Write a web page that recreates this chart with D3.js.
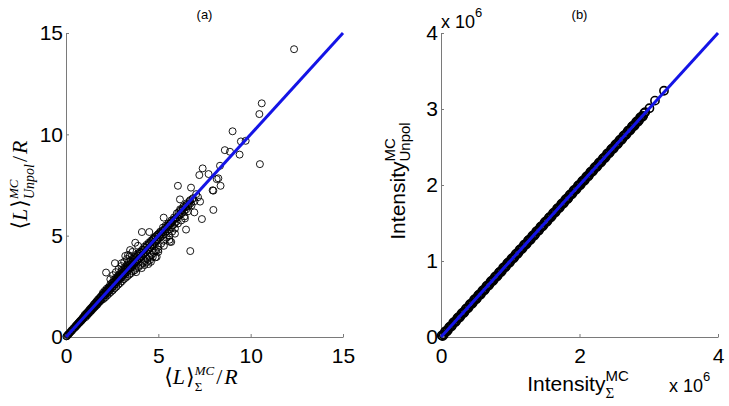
<!DOCTYPE html>
<html>
<head>
<meta charset="utf-8">
<script src="https://cdn.jsdelivr.net/npm/d3@7"></script>
<style>
  html, body { margin: 0; padding: 0; background: #fff; }
  svg { display: block; }
</style>
</head>
<body>
<svg id="chart" width="729" height="406"></svg>
<script>
// ---------- DATA ----------
// Panel (a): <L>_Sigma^MC / R  (x)  vs  <L>_Unpol^MC / R  (y)
const xA = [
  0.02,0.05,0.08,0.1,0.13,0.16,0.2,0.23,0.27,0.3,0.34,0.38,0.42,0.46,0.5,0.54,0.58,0.62,0.66,0.7,0.74,0.78,0.82,0.86,0.9,0.94,0.98,
  1.02,1.06,1.1,1.14,1.18,1.22,1.26,1.3,1.34,1.38,1.42,1.46,1.5,1.54,1.58,1.62,1.66,1.7,1.74,1.78,1.82,1.86,1.9,1.94,1.98,
  2.0,2.03,2.06,2.1,2.13,2.16,2.2,2.23,2.26,2.3,2.33,2.36,2.4,2.43,2.46,2.5,2.53,2.56,2.6,2.63,2.66,2.7,2.73,2.76,2.8,2.83,2.86,2.9,2.93,2.96,
  3.0,3.03,3.06,3.1,3.13,3.16,3.2,3.23,3.26,3.3,3.33,3.36,3.4,3.43,3.46,3.5,3.53,3.56,3.6,3.63,3.66,3.7,3.73,3.76,3.8,3.83,3.86,3.9,3.93,3.96,
  4.0,4.04,4.08,4.12,4.16,4.2,4.24,4.28,4.32,4.36,4.4,4.44,4.48,4.52,4.56,4.6,4.64,4.68,4.72,4.76,4.8,4.84,4.88,4.92,4.96,
  5.0,5.05,5.1,5.15,5.2,5.25,5.3,5.35,5.4,5.45,5.5,5.55,5.6,5.65,5.7,5.75,5.8,5.85,5.9,5.95,
  6.0,6.06,6.12,6.18,6.24,6.3,6.36,6.42,6.48,6.54,6.6,6.66,6.72,6.8,6.88,6.96,7.05,7.15,
  0.52,0.56,0.6,0.64,0.68,0.72,0.76,0.8,0.84,0.88,0.92,0.96,1.0,1.04,1.08,1.12,1.16,1.2,1.24,1.28,1.32,1.36,1.4,1.44,1.48,1.52,1.56,1.6,1.64,1.68,1.72,1.76,1.8,1.84,1.88,1.92,1.96,
  2.02,2.06,2.1,2.14,2.18,2.22,2.26,2.3,2.34,2.38,2.42,2.46,2.5,2.54,2.58,2.62,2.66,2.7,2.74,2.78,2.82,2.86,2.9,2.94,2.98,
  3.02,3.06,3.1,3.14,3.18,3.22,3.26,3.3,3.34,3.38,3.42,3.46,3.5,3.54,3.58,3.62,3.66,3.7,3.74,3.78,3.82,3.86,3.9,3.94,3.98,
  4.02,4.06,4.1,4.14,4.18,4.22,4.26,4.3,4.34,4.38,4.42,4.46,4.5,4.54,4.58,4.62,4.66,4.7,4.74,4.78,4.82,4.86,4.9,4.94,4.98,
  5.02,5.08,5.12,5.18,5.22,5.28,5.32,5.38,5.42,5.48,5.52,5.58,5.62,5.68,5.72,5.78,5.82,5.88,5.92,5.98,
  6.03,6.09,6.15,6.21,6.27,6.33,6.39,6.45,6.51,6.57,6.63,6.69,6.75,6.84,
  2.4,2.7,3.0,3.3,3.6,3.9,2.55,2.85,3.15,3.45,
  3.8,4.1,4.4,4.7,5.0,5.3,5.6,5.9,4.25,4.55,
  12.35,10.6,10.47,10.5,9.02,9.47,9.73,9.4,8.6,8.88,7.4,6.06,7.22,8.34,8.37,8.16,7.98,6.77,
  7.72,8.25,7.94,7.98,7.36,6.5,6.73,6.17,7.26,6.95,5.29,5.7,5.0,4.91,4.6,6.44,
  4.11,4.51,3.75,3.36,2.65,2.17,3.47,3.21,3.01,5.63,4.46,4.84,4.82
];
const yA = [
  0.03,0.04,0.09,0.12,0.12,0.17,0.19,0.25,0.26,0.33,0.32,0.40,0.44,0.44,0.53,0.52,0.60,0.60,0.69,0.68,0.77,0.76,0.85,0.83,0.94,0.91,1.02,
  1.1,0.98,1.17,1.06,1.24,1.15,1.34,1.22,1.42,1.3,1.5,1.38,1.6,1.46,1.68,1.53,1.77,1.6,1.86,1.7,1.93,1.77,2.02,1.84,2.1,
  2.18,1.88,2.05,2.28,1.96,2.22,2.38,2.05,2.33,2.45,2.14,2.4,2.6,2.22,2.52,2.68,2.3,2.6,2.82,2.4,2.7,2.92,2.48,2.8,3.0,2.58,2.9,3.1,2.66,3.0,
  3.25,2.75,3.05,3.35,2.85,3.15,3.45,2.92,3.3,3.55,3.0,3.38,3.7,3.08,3.45,3.75,3.15,3.55,3.85,3.25,3.62,3.95,3.3,3.72,4.05,3.4,3.8,4.12,3.45,3.9,
  4.2,3.55,3.95,4.3,3.65,4.1,4.45,3.75,4.2,4.55,3.85,4.3,4.65,3.95,4.45,4.75,4.05,4.55,4.85,4.15,4.7,4.95,4.25,4.8,5.05,
  4.45,5.0,5.2,4.6,5.15,5.4,4.75,5.3,5.5,4.9,5.45,5.6,5.0,5.6,5.75,5.2,5.75,5.9,5.35,5.85,
  6.1,5.6,6.05,6.3,5.75,6.25,6.45,5.95,6.4,6.6,6.2,6.55,6.75,6.5,6.85,6.7,7.05,6.9,
  0.5,0.58,0.59,0.66,0.67,0.74,0.73,0.82,0.81,0.9,0.89,0.98,1.0,1.06,1.1,1.1,1.2,1.18,1.28,1.25,1.36,1.33,1.44,1.4,1.52,1.48,1.62,1.57,1.7,1.64,1.78,1.72,1.86,1.8,1.96,1.88,2.04,
  2.1,2.14,2.05,2.24,2.14,2.3,2.2,2.38,2.28,2.48,2.36,2.55,2.45,2.66,2.52,2.74,2.6,2.8,2.7,2.9,2.78,2.98,2.85,3.06,2.92,
  3.14,3.0,3.22,3.08,3.3,3.15,3.38,3.2,3.48,3.3,3.55,3.38,3.62,3.45,3.7,3.52,3.8,3.6,3.88,3.68,3.95,3.75,4.02,3.82,4.1,
  3.9,4.15,3.98,4.22,4.05,4.3,4.12,4.4,4.2,4.48,4.28,4.55,4.35,4.62,4.42,4.7,4.5,4.8,4.58,4.88,4.65,4.95,4.72,5.02,4.8,
  5.1,4.9,5.15,4.98,5.25,5.05,5.32,5.15,5.42,5.22,5.5,5.3,5.6,5.4,5.68,5.5,5.78,5.58,5.85,5.7,
  5.9,6.15,6.0,6.25,6.1,6.35,6.2,6.45,6.3,6.55,6.45,6.7,6.6,6.8,
  2.85,3.2,3.5,3.85,4.2,4.5,3.05,3.35,3.7,4.0,
  3.2,3.4,3.7,3.95,4.2,4.5,4.8,5.1,3.55,3.8,
  14.2,11.53,11.0,8.53,10.15,9.65,9.68,9.0,9.22,9.14,8.32,7.46,7.99,8.45,7.46,7.79,7.22,7.37,
  8.04,7.83,7.24,6.27,5.82,5.3,4.24,6.79,6.68,6.15,5.89,4.69,4.31,3.95,3.71,5.85,
  5.18,5.18,4.65,4.05,3.64,3.18,4.29,4.0,3.64,4.7,3.6,3.93,4.26
];

// Panel (b): Intensity_Sigma^MC (x) vs Intensity_Unpol^MC (y), in units of 10^6
const xB = [
  0.01,0.04,0.07,0.10,0.13,0.16,0.19,0.22,0.25,0.28,0.31,0.34,0.37,0.40,0.43,0.46,0.49,0.52,0.55,0.58,
  0.61,0.64,0.67,0.70,0.73,0.76,0.79,0.82,0.85,0.88,0.91,0.94,0.97,1.00,1.03,1.06,1.09,1.12,1.15,1.18,
  1.21,1.24,1.27,1.30,1.33,1.36,1.39,1.42,1.45,1.48,1.51,1.54,1.57,1.60,1.63,1.66,1.69,1.72,1.75,1.78,
  1.81,1.84,1.87,1.90,1.93,1.96,1.99,2.02,2.05,2.08,2.11,2.14,2.17,2.20,2.23,2.26,2.29,2.32,2.35,2.38,
  2.41,2.44,2.47,2.50,2.53,2.56,2.59,2.62,2.65,2.68,2.71,2.74,2.77,2.80,2.83,2.86,2.89,2.92,2.95,
  3.01,3.09,3.22,
  0.025,0.055,0.085,0.115,0.145,0.175,0.205,0.235,0.265,0.295,
  0.325,0.355,0.385,0.415,0.445,0.475,0.505,0.535,0.565,0.595,
  0.625,0.655,0.685,0.715,0.745,0.775,0.805,0.835,0.865,0.895,
  0.925,0.955,0.985,1.015,1.045,1.075,1.105,1.135,1.165,1.195,
  1.225,1.255,1.285,1.315,1.345,1.375,1.405,1.435,1.465,1.495,
  1.525,1.555,1.585,1.615,1.645,1.675,1.705,1.735,1.765,1.795,
  1.825,1.855,1.885,1.915,1.945,1.975,2.005,2.035,2.065,2.095,
  2.125,2.155,2.185,2.215,2.245,2.275,2.305,2.335,2.365,2.395,
  2.425,2.455,2.485,2.515,2.545,2.575,2.605,2.635,2.665,2.695,
  2.725,2.755,2.785,2.815,2.845,2.875,2.905,2.935
];
const yB = [
  0.02,0.03,0.08,0.09,0.14,0.15,0.20,0.21,0.26,0.27,0.32,0.33,0.38,0.39,0.44,0.45,0.50,0.51,0.56,0.57,
  0.62,0.63,0.68,0.69,0.74,0.75,0.80,0.81,0.86,0.87,0.92,0.93,0.98,0.99,1.04,1.05,1.10,1.11,1.16,1.17,
  1.22,1.23,1.28,1.29,1.34,1.35,1.40,1.41,1.46,1.47,1.52,1.53,1.58,1.59,1.64,1.65,1.70,1.71,1.76,1.77,
  1.82,1.83,1.88,1.89,1.94,1.95,2.00,2.01,2.06,2.07,2.12,2.13,2.18,2.19,2.24,2.25,2.30,2.31,2.36,2.37,
  2.42,2.43,2.48,2.49,2.54,2.55,2.60,2.61,2.66,2.67,2.72,2.73,2.78,2.79,2.84,2.85,2.90,2.91,2.96,
  3.01,3.11,3.24,
  0.013,0.067,0.073,0.127,0.133,0.187,0.193,0.247,0.253,0.307,
  0.313,0.367,0.373,0.427,0.433,0.487,0.493,0.547,0.553,0.607,
  0.613,0.667,0.673,0.727,0.733,0.787,0.793,0.847,0.853,0.907,
  0.913,0.967,0.973,1.027,1.033,1.087,1.093,1.147,1.153,1.207,
  1.213,1.267,1.273,1.327,1.333,1.387,1.393,1.447,1.453,1.507,
  1.513,1.567,1.573,1.627,1.633,1.687,1.693,1.747,1.753,1.807,
  1.813,1.867,1.873,1.927,1.933,1.987,1.993,2.047,2.053,2.107,
  2.113,2.167,2.173,2.227,2.233,2.287,2.293,2.347,2.353,2.407,
  2.413,2.467,2.473,2.527,2.533,2.587,2.593,2.647,2.653,2.707,
  2.713,2.767,2.773,2.827,2.833,2.887,2.893,2.947
];

const ticksA = [0, 5, 10, 15];
const ticksB = [0, 1, 2, 3, 4];
const ticksBx = [0, 2, 4];
const lineA = [0, 15];
const lineB = [0, 4];
const titles = ["(a)", "(b)"];

// ---------- DRAW ----------
const svg = d3.select("#chart");
svg.append("rect").attr("width", 729).attr("height", 406).attr("fill", "#fff");

const AX = "#7a7a7a";
const BLUE = "#1414e6";
const SANS = "Liberation Sans, Arial, sans-serif";
const SERIF = "Liberation Serif, DejaVu Serif, serif";

function drawAxes(g, x, y, xt, yt) {
  const ax = g.append("g").attr("transform", `translate(0,${y.range()[0]})`)
    .call(d3.axisBottom(x).tickValues(xt).tickSizeInner(-3).tickSizeOuter(0).tickPadding(11).tickFormat(d3.format("d")));
  const ay = g.append("g").attr("transform", `translate(${x.range()[0]},0)`)
    .call(d3.axisLeft(y).tickValues(yt).tickSizeInner(-3).tickSizeOuter(0).tickPadding(3).tickFormat(d3.format("d")));
  [ax, ay].forEach(a => {
    a.select(".domain").attr("stroke", AX).attr("stroke-width", 1);
    a.selectAll(".tick line").attr("stroke", AX);
    a.selectAll(".tick text").attr("fill", "#000").style("font-family", SANS).style("font-size", "21px");
  });
}

// math-like label builder: stack1/stack2 place a superscript and subscript at the same x
function mathLabel(parent, parts, cx, cy, rotate) {
  const g = parent.append("g");
  let cursor = 0, stackStart = null, stackMax = 0;
  parts.forEach(p => {
    const t = g.append("text")
      .attr("x", stackStart !== null && p.stack2 ? stackStart : cursor)
      .attr("y", p.dy || 0)
      .style("font-family", p.family || SANS)
      .style("font-size", (p.size || 18) + "px")
      .style("font-style", p.italic ? "italic" : "normal")
      .attr("fill", "#000")
      .text(p.text);
    const w = t.node().getComputedTextLength() + (p.pad || 0);
    if (p.stack1) { stackStart = cursor; stackMax = w; }
    else if (p.stack2) { stackMax = Math.max(stackMax, w); cursor = stackStart + stackMax; stackStart = null; }
    else cursor += w;
  });
  const total = cursor;
  g.attr("transform", `translate(${cx},${cy})` + (rotate ? " rotate(-90)" : "") + ` translate(${-total / 2},0)`);
  return g;
}

// Panel (a)
const xa = d3.scaleLinear().domain([0, 15]).range([66, 343]);
const ya = d3.scaleLinear().domain([0, 15]).range([337, 33]);
const ga = svg.append("g");
drawAxes(ga, xa, ya, ticksA, ticksA);
ga.append("g").selectAll("circle").data(d3.range(Math.min(xA.length, yA.length))).join("circle")
  .attr("cx", i => xa(xA[i])).attr("cy", i => ya(yA[i])).attr("r", 3.5)
  .attr("fill", "none").attr("stroke", "#000").attr("stroke-width", 0.9);
ga.append("line").attr("x1", xa(lineA[0])).attr("y1", ya(lineA[0])).attr("x2", xa(lineA[1])).attr("y2", ya(lineA[1]))
  .attr("stroke", BLUE).attr("stroke-width", 3);
ga.append("text").attr("x", (xa.range()[0] + xa.range()[1]) / 2).attr("y", 19).attr("text-anchor", "middle")
  .style("font-family", SANS).style("font-size", "13px").text(titles[0]);

const partsA = (sub) => [
  { text: "\u27E8", family: SERIF, size: 22 },
  { text: "L", family: SERIF, size: 22, italic: true, pad: 1 },
  { text: "\u27E9", family: SERIF, size: 22 },
  { text: "MC", family: SERIF, size: 13, italic: true, dy: -9, stack1: true, pad: 2 },
  sub,
  { text: "/", family: SERIF, size: 22, pad: 2 },
  { text: "R", family: SERIF, size: 22, italic: true }
];
mathLabel(svg, partsA({ text: "\u03A3", family: SERIF, size: 13, dy: 7, stack2: true, pad: 2 }), 201, 384, false);
mathLabel(svg, partsA({ text: "Unpol", family: SERIF, size: 14, italic: true, dy: 7, stack2: true, pad: 2 }), 27, 185, true);

// Panel (b)
const xb = d3.scaleLinear().domain([0, 4]).range([441, 718]);
const yb = d3.scaleLinear().domain([0, 4]).range([337, 33]);
const gb = svg.append("g");
drawAxes(gb, xb, yb, ticksBx, ticksB);
gb.append("g").selectAll("circle").data(d3.range(Math.min(xB.length, yB.length))).join("circle")
  .attr("cx", i => xb(xB[i])).attr("cy", i => yb(yB[i])).attr("r", 4.1)
  .attr("fill", "none").attr("stroke", "#000").attr("stroke-width", 1.6);
gb.append("line").attr("x1", xb(lineB[0])).attr("y1", yb(lineB[0])).attr("x2", xb(lineB[1])).attr("y2", yb(lineB[1]))
  .attr("stroke", BLUE).attr("stroke-width", 3);
gb.append("text").attr("x", (xb.range()[0] + xb.range()[1]) / 2).attr("y", 19).attr("text-anchor", "middle")
  .style("font-family", SANS).style("font-size", "13px").text(titles[1]);

mathLabel(svg, [
  { text: "Intensity", size: 21 },
  { text: "MC", size: 15, dy: -10, stack1: true },
  { text: "Unpol", size: 15, dy: 5, stack2: true }
], 405, 181, true);
mathLabel(svg, [
  { text: "Intensity", size: 21 },
  { text: "MC", size: 15, dy: -10, stack1: true },
  { text: "\u03A3", family: SERIF, size: 15, dy: 7, stack2: true }
], 578, 391, false);

// multipliers
function mult(x, y) {
  const t = svg.append("text").attr("x", x).attr("y", y)
    .style("font-family", SANS).style("font-size", "18px").attr("fill", "#000");
  t.append("tspan").text("x 10");
  t.append("tspan").attr("dy", -11).style("font-size", "13px").text("6");
}
mult(441, 28);
mult(669, 392);
</script>
</body>
</html>
